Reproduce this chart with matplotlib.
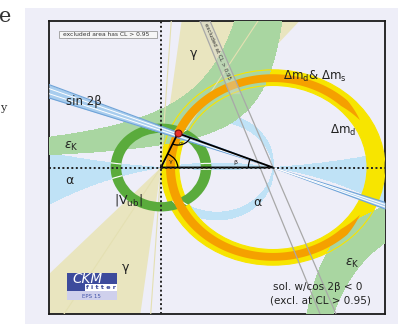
import numpy as np
import matplotlib
matplotlib.use("Agg")
import matplotlib.pyplot as plt
from matplotlib.patches import Rectangle, Wedge, Arc, Polygon, Circle

# ---- plot window (rho-bar, eta-bar) ----
rho_range = (-1.0, 2.0)
eta_range = (-1.5, 1.5)

# ---- constraints ----
apex = (0.15, 0.35)                       # fitted apex of the unitarity triangle
vub_radii = (0.355, 0.45)                 # |Vub| ring around (0,0)
dmd_radii = (0.84, 1.0)                   # Delta m_d ring around (1,0)
dmds_radii = (0.875, 0.955)               # Delta m_d & Delta m_s ring around (1,0)
dmds_span = (32.0, 328.0)                 # angular extent of that ring (deg)
gamma_upper = (50.5, 83.0)                # gamma wedge from the origin (deg)
gamma_lower = (227.5, 263.0)              # mirror solution (deg)
gamma_lines = (60.0, 86.5)                # inner contour lines of gamma (deg)
alpha_bands = [(85.0, 94.0), (0.0, 4.2), (170.0, 180.0)]   # alpha solutions (deg, mod 180)
beta_band = (19.6, 23.0)                  # sin 2beta band (deg)
beta_stripes = (20.7, 22.0)
# cos 2beta < 0 solution: rho of the two edges at eta = +1.5 and eta = -1.5
beta_alt_top = (0.348, 0.4375)
beta_alt_bottom = (1.42, 1.5625)
# eps_K band, eta > 0 branch: eta*(pole - rho) = level for each edge
epsk_up_lower = (1.28, 0.30)              # (pole, level)
epsk_up_upper = (1.092, 0.649)
# eps_K band, eta < 0 branch: |eta|*(rho - pole) between levels
epsk_low_pole = 1.05
epsk_low_levels = (0.38, 0.73)

# ---- colours ----
bg = '#eeeef8'
c_alpha = '#bfe2f6'
c_gamma = '#e9e5bf'
c_epsk = '#a9d6a1'
c_vub = '#5aab3c'
c_dmd = '#f7e500'
c_dmds = '#f5a000'
c_s2b = '#a8cdee'
c_s2b_edge = '#6fa3d8'
txt = '#222222'

W, H = 398, 324
fig = plt.figure(figsize=(W / 100, H / 100), dpi=100)
fig.patch.set_facecolor('white')


def fx(x):
    return x / W


def fy(y):
    return 1 - y / H


fig.patches.append(Rectangle((fx(25), 0), 1 - fx(25), fy(8), transform=fig.transFigure,
                             facecolor=bg, edgecolor='none', zorder=-5))

ax = fig.add_axes([fx(49), fy(314), (385 - 49) / W, (314 - 21) / H])
ax.set_zorder(1)
ax.set_xlim(*rho_range)
ax.set_ylim(*eta_range)
ax.set_facecolor(bg)
ax.set_xticks([])
ax.set_yticks([])
for s in ax.spines.values():
    s.set_color('#1a1a1a')
    s.set_linewidth(1.3)

rho = np.linspace(rho_range[0], rho_range[1], 1801)
eta = np.linspace(eta_range[0], eta_range[1], 1601)
R, E = np.meshgrid(rho, eta)
Z = R + 1j * E

# alpha: angle at the apex, defined modulo 180 deg
with np.errstate(divide='ignore', invalid='ignore'):
    alpha = np.degrees(np.angle(-(1 - Z) / Z)) % 180.0
alpha_mask = np.zeros_like(R)
for lo, hi in alpha_bands:
    alpha_mask[(alpha >= lo) & (alpha <= hi)] = 1.0
ax.contourf(R, E, alpha_mask, levels=[0.5, 1.5], colors=[c_alpha], zorder=1)

# gamma wedges
for g0, g1 in (gamma_upper, gamma_lower):
    ax.add_patch(Wedge((0, 0), 6, g0, g1, facecolor=c_gamma, edgecolor='none', zorder=2))

# Delta m_d ring
ax.add_patch(Wedge((1, 0), dmd_radii[1], 0, 360, width=dmd_radii[1] - dmd_radii[0],
                   facecolor=c_dmd, edgecolor='none', zorder=2.5))

# eps_K hyperbolic band (two branches)
up = (E > 0) & (E * (epsk_up_lower[0] - R) >= epsk_up_lower[1]) & \
     (E * (epsk_up_upper[0] - R) <= epsk_up_upper[1])
kl = -E * (R - epsk_low_pole)
low = (E < 0) & (R > epsk_low_pole) & (kl >= epsk_low_levels[0]) & (kl <= epsk_low_levels[1])
epsk_mask = (up | low).astype(float)
ax.contourf(R, E, epsk_mask, levels=[0.5, 1.5], colors=[c_epsk], zorder=3)

# outlines of the Delta m_d ring
for r in dmd_radii:
    ax.add_patch(Circle((1, 0), r, facecolor='none', edgecolor=c_dmd, lw=0.8, zorder=3.5))

# gamma contour lines
for g in gamma_lines:
    t = np.radians(g)
    ax.plot([-5 * np.cos(t), 5 * np.cos(t)], [-5 * np.sin(t), 5 * np.sin(t)],
            color='#e4e0b2', lw=0.8, zorder=3.6)

# |Vub| ring, with the alpha contours showing through as white ticks
vub = Wedge((0, 0), vub_radii[1], 0, 360, width=vub_radii[1] - vub_radii[0],
            facecolor=c_vub, edgecolor='none', zorder=4)
ax.add_patch(vub)
ticks = ax.contour(R, E, alpha_mask, levels=[0.5], colors='white', linewidths=0.8, zorder=4.1)
ticks.set_clip_path(vub)

# Delta m_d & Delta m_s ring with tapered ends
tdeg = np.linspace(dmds_span[0], dmds_span[1], 500)
f = np.clip(np.minimum(tdeg - dmds_span[0], dmds_span[1] - tdeg) / 14.0, 0, 1)
mid = 0.5 * (dmds_radii[0] + dmds_radii[1])
r_in = mid - f * (mid - dmds_radii[0])
r_out = mid + f * (dmds_radii[1] - mid)
th = np.radians(tdeg)
xs = np.concatenate([1 + r_out * np.cos(th), (1 + r_in * np.cos(th))[::-1]])
ys = np.concatenate([r_out * np.sin(th), (r_in * np.sin(th))[::-1]])
ax.add_patch(Polygon(np.column_stack([xs, ys]), closed=True, facecolor=c_dmds,
                     edgecolor='none', zorder=5))

# sin 2beta band through (1,0)
rr = np.array([rho_range[0], rho_range[1]])
lo_b = -np.tan(np.radians(beta_band[0])) * (rr - 1)
hi_b = -np.tan(np.radians(beta_band[1])) * (rr - 1)
ax.fill_between(rr, lo_b, hi_b, color=c_s2b, lw=0, zorder=6)
for b in beta_band:
    ax.plot(rr, -np.tan(np.radians(b)) * (rr - 1), color=c_s2b_edge, lw=0.8, zorder=6.1)
for b in beta_stripes:
    ax.plot(rr, -np.tan(np.radians(b)) * (rr - 1), color='white', lw=0.7, zorder=6.1)

# cos 2beta < 0 solution (excluded): two edges, lightly shaded near the top
e_top, e_bot = eta_range[1], eta_range[0]


def alt_edge(k, e):
    t = (e_top - e) / (e_top - e_bot)
    return beta_alt_top[k] + t * (beta_alt_bottom[k] - beta_alt_top[k])


e_cut = 0.75
strip = [(alt_edge(0, e_top), e_top), (alt_edge(1, e_top), e_top),
         (alt_edge(1, e_cut), e_cut), (alt_edge(0, e_cut), e_cut)]
ax.add_patch(Polygon(strip, closed=True, facecolor='#d4d4cc', edgecolor='none', alpha=0.45, zorder=6.2))
for k in range(2):
    ax.plot([alt_edge(k, e_top), alt_edge(k, e_bot)], [e_top, e_bot],
            color='#a8a8a8', lw=0.9, zorder=6.3)
ax.text(0.505, 1.19, 'excluded at CL > 0.95', fontsize=4.0, rotation=-67, color='#333333',
        ha='center', va='center', zorder=6.4)

# unitarity triangle
ax.plot([0, apex[0], 1, 0], [0, apex[1], 0, 0], color='black', lw=1.3, zorder=8,
        solid_joinstyle='miter')
ang_apex = np.degrees(np.arctan2(apex[1], apex[0]))
ang_beta = np.degrees(np.arctan2(apex[1], apex[0] - 1))
ang_a1 = np.degrees(np.arctan2(-apex[1], 1 - apex[0]))
ang_a2 = np.degrees(np.arctan2(-apex[1], -apex[0]))
ax.add_patch(Arc((0, 0), 0.30, 0.30, theta1=0, theta2=ang_apex, color='black', lw=0.9, zorder=8))
ax.add_patch(Arc(apex, 0.24, 0.24, theta1=ang_a2, theta2=ang_a1, color='black', lw=0.9, zorder=8))
ax.add_patch(Arc((1, 0), 0.44, 0.44, theta1=ang_beta, theta2=180, color='black', lw=0.9, zorder=8))
ax.text(0.085, 0.06, 'γ', fontsize=4.5, color=txt, ha='center', va='center', zorder=8)
ax.text(0.18, 0.245, 'α', fontsize=4.5, color=txt, ha='center', va='center', zorder=8)
ax.text(0.66, 0.05, 'β', fontsize=4.5, color=txt, ha='center', va='center', zorder=8)
ax.plot(*apex, 'o', ms=5, mfc='#e8302a', mec='#7a1010', mew=0.8, zorder=8.5)

# reference axes
ax.axhline(0, color='#222222', lw=1.4, ls=(0, (1, 1.3)), zorder=9)
ax.axvline(0, color='#222222', lw=1.4, ls=(0, (1, 1.3)), zorder=9)

# constraint labels
lab = dict(color=txt, ha='center', va='center', zorder=10)
ax.text(-0.69, 0.68, 'sin 2β', fontsize=8.5, **lab)
ax.text(-0.80, 0.22, r'$\varepsilon_{\mathrm{K}}$', fontsize=9, **lab)
ax.text(-0.82, -0.13, 'α', fontsize=9, **lab)
ax.text(-0.29, -0.33, r'$|\mathrm{V}_{\mathrm{ub}}|$', fontsize=9, **lab)
ax.text(0.29, 1.17, 'γ', fontsize=9, **lab)
ax.text(-0.32, -1.02, 'γ', fontsize=9, **lab)
ax.text(1.37, 0.93, r'$\Delta\mathrm{m}_{\mathrm{d}}$& $\Delta\mathrm{m}_{\mathrm{s}}$', fontsize=8.5, **lab)
ax.text(1.63, 0.38, r'$\Delta\mathrm{m}_{\mathrm{d}}$', fontsize=8.5, **lab)
ax.text(0.86, -0.36, 'α', fontsize=9, **lab)
ax.text(1.71, -0.98, r'$\varepsilon_{\mathrm{K}}$', fontsize=9, **lab)
ax.text(1.40, -1.22, 'sol. w/cos 2β < 0', fontsize=7.5, **lab)
ax.text(1.42, -1.36, '(excl. at CL > 0.95)', fontsize=7.5, **lab)

# legend box
fig.patches.append(Rectangle((fx(59), fy(37.5)), (157 - 59) / W, 6.5 / H, transform=fig.transFigure,
                             facecolor='#f6f6f6', edgecolor='#9a9a9a', lw=0.6, zorder=11))
fig.text(fx(63), fy(34.3), 'excluded area has CL > 0.95', fontsize=4.3, color='#333333',
         ha='left', va='center', zorder=12)

# CKMfitter logo
fig.patches.append(Rectangle((fx(66.7), fy(284)), 50 / W, 11.3 / H, transform=fig.transFigure,
                             facecolor='#3d4b9c', edgecolor='none', zorder=11))
fig.patches.append(Rectangle((fx(66.7), fy(290.7)), 18 / W, 6.7 / H, transform=fig.transFigure,
                             facecolor='#3d4b9c', edgecolor='none', zorder=11))
fig.patches.append(Rectangle((fx(84.7), fy(290.7)), 32 / W, 6.7 / H, transform=fig.transFigure,
                             facecolor='white', edgecolor='none', zorder=11))
fig.patches.append(Rectangle((fx(66.7), fy(300)), 50 / W, 9.3 / H, transform=fig.transFigure,
                             facecolor='#cfd0ec', edgecolor='none', zorder=11))
fig.text(fx(87.5), fy(279), 'CKM', fontsize=9.8, style='italic', color='white',
         ha='center', va='center', zorder=12)
fig.text(fx(101), fy(287.5), 'f i t t e r', fontsize=4.6, color='#3d4b9c', weight='bold',
         ha='center', va='center', zorder=12)
fig.text(fx(91.5), fy(296), 'EPS 15', fontsize=4.0, color='#4455aa',
         ha='center', va='center', zorder=12)

# neighbouring page text
fig.text(fx(-1), fy(17), 'e', fontsize=15, family='DejaVu Serif', color='#333333',
         ha='left', va='center')
fig.text(fx(0), fy(108), 'y', fontsize=8, family='DejaVu Serif', color='#333333',
         ha='left', va='center')

fig.savefig('out.png', dpi=100)
